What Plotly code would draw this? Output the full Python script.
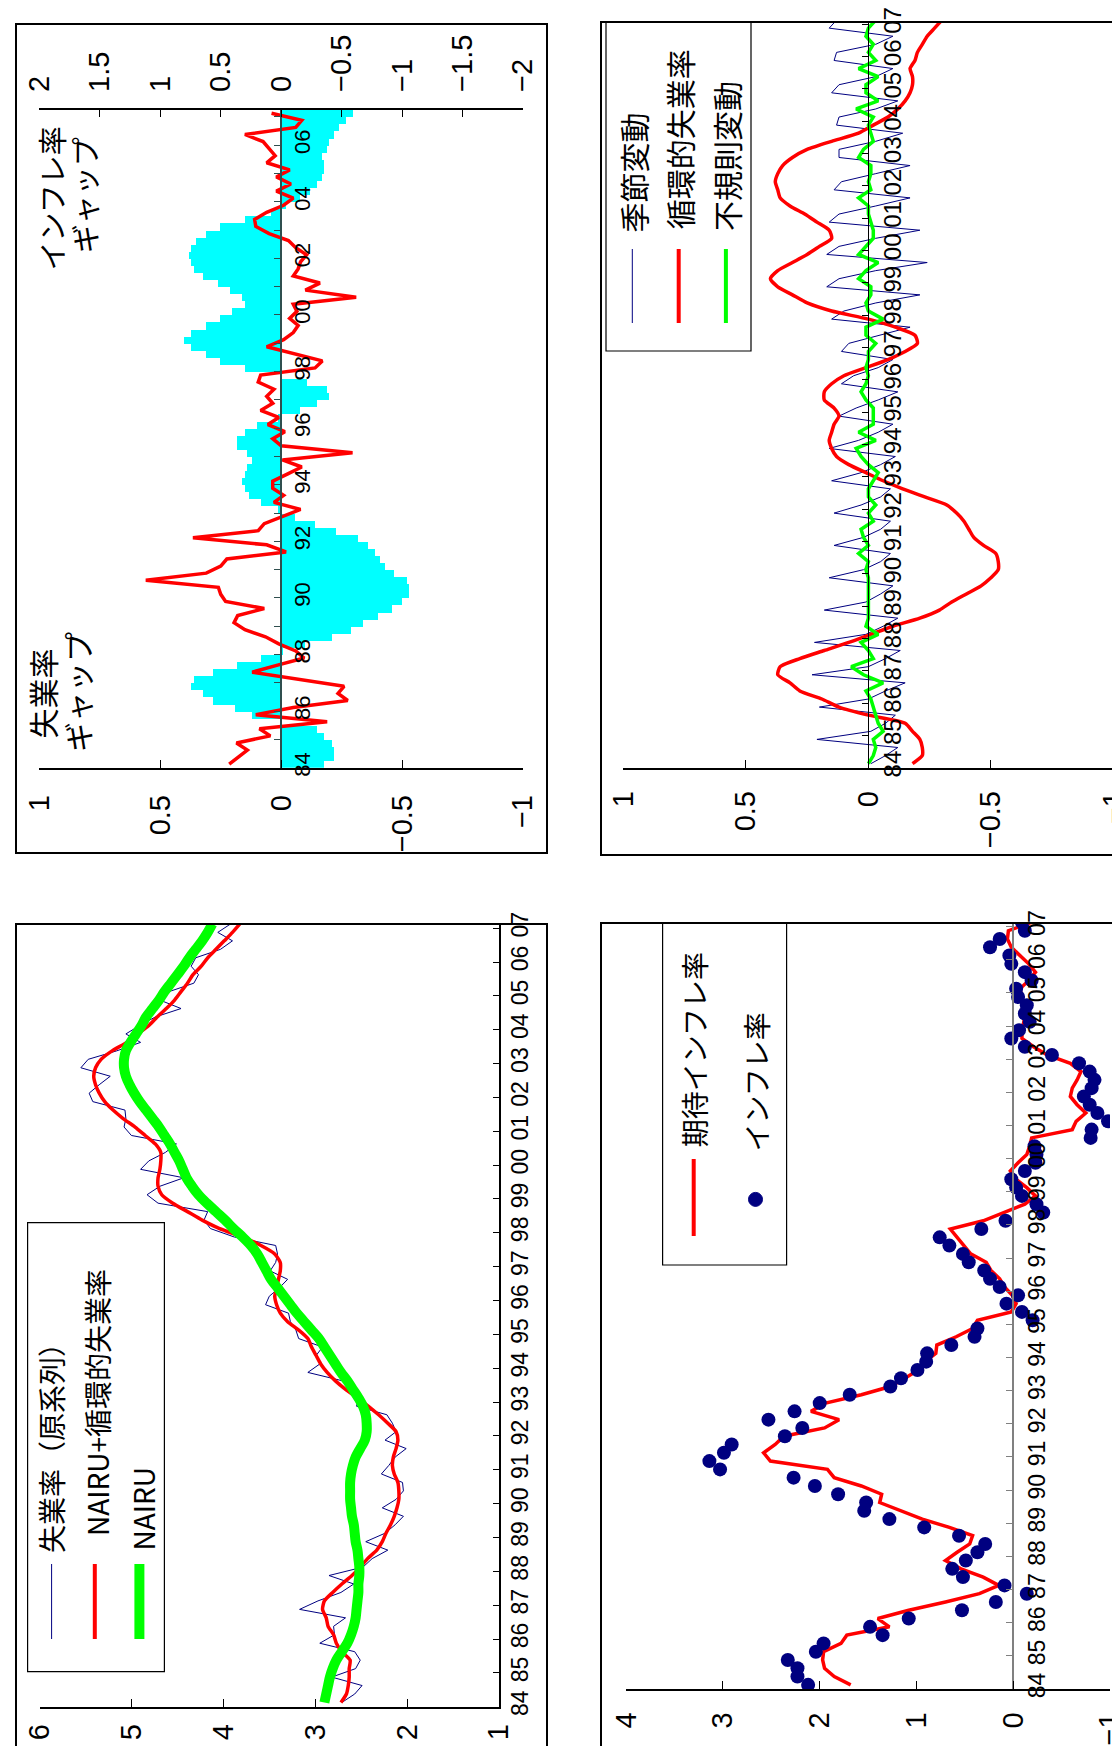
import plotly.graph_objects as go

W, H = 1120, 1746

# ---------------- data (quarterly, 1984Q1 .. 2007Q1) ----------------
QUARTERS = [f"{1984 + k // 4}Q{k % 4 + 1}" for k in range(93)]
YEARS = list(range(1984, 2008))
YEAR_LABELS = [f"{y % 100:02d}" for y in YEARS]

UNEMP_RAW = [2.71,2.57,2.49,2.82, 2.56,2.51,2.57,2.95, 2.79,2.80,2.67,3.17, 2.97,2.72,2.58,2.85,
             2.48,2.38,2.21,2.45, 2.24,2.13,2.04,2.27, 2.12,2.04,2.05,2.28, 2.20,2.13,2.01,2.24,
             2.12,2.16,2.22,2.55, 2.53,2.62,2.70,3.08, 2.95,2.99,2.92,3.18, 3.21,3.27,3.29,3.54,
             3.50,3.39,3.30,3.49, 3.43,3.41,3.43,3.88, 4.14,4.21,4.17,4.71, 4.83,4.69,4.43,4.90,
             4.81,4.63,4.51,5.00, 5.08,5.06,5.07,5.42, 5.46,5.35,5.23,5.55, 5.47,5.16,4.90,5.06,
             4.91,4.74,4.46,4.69, 4.59,4.32,4.27,4.35, 4.30,4.03,3.90,4.06, 3.92]
NAIRU_CYC = [2.72,2.66,2.64,2.63, 2.63,2.62,2.71,2.77, 2.80,2.86,2.88,2.92, 2.90,2.81,2.71,2.60,
             2.51,2.43,2.33,2.27, 2.23,2.18,2.14,2.11, 2.09,2.09,2.10,2.14, 2.16,2.15,2.12,2.10,
             2.12,2.21,2.31,2.42, 2.54,2.67,2.78,2.87, 2.94,2.99,3.04,3.08, 3.18,3.30,3.38,3.42,
             3.44,3.42,3.40,3.38, 3.38,3.44,3.59,3.79, 4.04,4.23,4.39,4.55, 4.67,4.71,4.71,4.69,
             4.68,4.68,4.74,4.85, 4.96,5.09,5.20,5.29, 5.35,5.39,5.41,5.39, 5.33,5.21,5.05,4.93,
             4.81,4.72,4.62,4.53, 4.46,4.39,4.33,4.24, 4.17,4.08,3.99,3.90, 3.82]
NAIRU = [2.90,2.88,2.86,2.84, 2.81,2.77,2.71,2.65, 2.61,2.58,2.56,2.55, 2.54,2.53,2.53,2.52,
         2.52,2.53,2.54,2.56, 2.57,2.58,2.60,2.61, 2.62,2.62,2.62,2.61, 2.59,2.56,2.51,2.46,
         2.44,2.44,2.45,2.48, 2.53,2.59,2.65,2.72, 2.78,2.84,2.90,2.96, 3.04,3.12,3.20,3.27,
         3.34,3.41,3.48,3.53, 3.58,3.63,3.70,3.79, 3.89,3.98,4.08,4.18, 4.27,4.34,4.40,4.44,
         4.48,4.53,4.58,4.64, 4.70,4.77,4.84,4.91, 4.97,5.02,5.06,5.08, 5.08,5.06,5.01,4.95,
         4.89,4.84,4.77,4.70, 4.64,4.57,4.50,4.43, 4.37,4.30,4.23,4.17, 4.12]

INFLATION = [2.12,2.23,2.23,2.33, 2.04,1.96,1.35,1.48, 1.08,0.53,0.18,-0.14, 0.09,0.52,0.63,0.49,
             0.37,0.29,0.56,0.92, 1.28,1.54,1.52,1.81, 2.05,2.27,3.03,3.14, 2.99,2.91,2.36,2.18,
             2.53,2.26,2.00,1.69, 1.27,1.16,0.99,0.90, 0.89,0.64,0.40,0.37, -0.20,-0.09,0.07,-0.05,
             0.14,0.24,0.30,0.46, 0.52,0.66,0.76,0.33, 0.08,-0.31,-0.24,-0.09, -0.03,0.02,-0.12,-0.23,
             -0.24,-0.22,-0.80,-0.81, -0.98,-0.87,-0.79,-0.73, -0.81,-0.84,-0.79,-0.68, -0.40,-0.12,0.02,-0.06,
             -0.17,-0.12,-0.14,-0.05, -0.03,-0.19,-0.12,0.02, 0.04,0.24,0.14,-0.12, -0.09]
EXP_INFLATION = [1.68,1.85,1.95,1.97, 1.96,1.78,1.72,1.28, 1.40,1.08,0.70,0.35, 0.15,0.31,0.54,0.70,
                 0.58,0.45,0.42,0.66, 0.94,1.15,1.38,1.36, 1.57,1.85,1.92,2.51, 2.58,2.46,2.37,1.95,
                 1.80,2.09,1.94,1.57, 1.27,1.12,0.98,0.91, 0.80,0.79,0.59,0.42, 0.37,0.02,-0.03,0.01,
                 0.09,0.14,0.23,0.28, 0.44,0.51,0.58,0.65, 0.31,0.10,-0.12,-0.23, -0.14,-0.03,0.03,-0.05,
                 -0.14,-0.17,-0.19,-0.61, -0.65,-0.75,-0.66,-0.59, -0.61,-0.66,-0.70,-0.59, -0.35,-0.21,-0.09,-0.09,
                 -0.11,-0.12,-0.10,-0.09, -0.07,-0.16,-0.23,-0.16, -0.07,0.02,0.06,0.05, -0.19]

CYCLICAL = [-0.18,-0.22,-0.22,-0.21, -0.18,-0.15,0.00,0.12, 0.19,0.28,0.32,0.37, 0.36,0.28,0.18,0.08,
            -0.01,-0.10,-0.21,-0.29, -0.34,-0.40,-0.46,-0.50, -0.53,-0.53,-0.52,-0.47, -0.43,-0.41,-0.39,-0.36,
            -0.32,-0.23,-0.14,-0.06, 0.01,0.08,0.13,0.15, 0.16,0.15,0.14,0.12, 0.14,0.18,0.18,0.15,
            0.10,0.01,-0.08,-0.15, -0.20,-0.19,-0.11,0.00, 0.15,0.25,0.31,0.37, 0.40,0.37,0.31,0.25,
            0.20,0.15,0.16,0.21, 0.26,0.32,0.36,0.37, 0.38,0.37,0.35,0.31, 0.25,0.15,0.04,-0.02,
            -0.08,-0.12,-0.15,-0.17, -0.18,-0.18,-0.17,-0.19, -0.20,-0.22,-0.24,-0.27, -0.30]
UNEMP_GAP = CYCLICAL  # the unemployment gap is the cyclical unemployment rate
INFL_GAP = [0.43,0.35,0.28,0.37, 0.09,0.18,-0.38,0.21, -0.10,-0.55,-0.47,-0.52, -0.12,0.24,0.03,-0.19,
            -0.12,0.02,0.13,0.30, 0.39,0.36,0.14,0.46, 0.50,0.52,1.12,0.62, 0.50,0.45,-0.04,0.12,
            0.73,0.19,0.14,-0.01, -0.16,0.06,-0.02,0.07, 0.07,-0.05,-0.17,-0.01, -0.59,0.00,0.07,-0.03,
            0.11,0.02,0.17,0.07, 0.12,0.06,0.19,0.17, -0.28,-0.34,-0.10,0.12, -0.02,-0.10,-0.14,-0.07,
            -0.13,-0.10,-0.62,-0.20, -0.32,-0.10,-0.14,-0.16, -0.21,-0.12,-0.06,0.10, 0.21,0.22,0.12,-0.02,
            -0.10,0.04,-0.08,0.04, -0.07,0.12,0.05,0.10, 0.15,0.30,-0.12,-0.17, 0.08]
SEASONAL = [-0.01,-0.07,-0.12,0.21, -0.01,-0.07,-0.11,0.20, 0.00,-0.07,-0.15,0.23, 0.00,-0.07,-0.13,0.22,
            0.01,-0.06,-0.12,0.18, 0.01,-0.05,-0.10,0.16, 0.02,-0.05,-0.09,0.14, 0.02,-0.05,-0.09,0.14,
            0.03,-0.05,-0.09,0.15, 0.03,-0.05,-0.11,0.16, 0.04,-0.04,-0.10,0.12, 0.05,-0.04,-0.12,0.11,
            0.06,-0.04,-0.10,0.11, 0.08,-0.04,-0.17,0.15, 0.10,-0.03,-0.21,0.17, 0.12,-0.03,-0.24,0.17,
            0.12,-0.03,-0.21,0.16, 0.12,-0.03,-0.17,0.14, 0.11,-0.03,-0.17,0.12, 0.12,-0.03,-0.14,0.13,
            0.12,-0.03,-0.12,0.15, 0.12,-0.03,-0.10,0.14, 0.13,-0.03,-0.10,0.16, 0.13]
IRREGULAR = [0.00,-0.02,-0.03,-0.02, -0.06,-0.04,-0.03,-0.02, -0.01,0.01,-0.06,0.02, 0.07,-0.02,0.00,0.03,
             -0.04,0.01,0.00,0.00, 0.00,0.00,0.00,0.00, 0.01,0.00,0.04,0.00, 0.02,0.03,-0.02,0.00,
             -0.03,0.00,0.00,-0.02, -0.04,0.00,0.03,0.05, -0.03,0.04,-0.02,-0.02, -0.02,0.01,0.03,0.01,
             0.00,0.01,0.00,0.00, -0.03,0.01,0.01,-0.06, 0.00,0.01,-0.01,-0.01, 0.04,0.01,-0.04,0.04,
             0.01,-0.02,-0.02,-0.01, 0.00,0.00,0.04,-0.01, 0.00,-0.01,-0.01,0.04, 0.02,-0.02,-0.01,0.00,
             -0.02,0.05,-0.04,0.01, 0.01,-0.04,0.04,-0.03, 0.00,-0.02,0.01,0.00, -0.03]


def qpos(q):
    # year (84 = 1984) at the middle of the quarter
    return (int(q[:4]) - 1900) + (int(q[-1]) - 0.5) / 4


T = [qpos(q) for q in QUARTERS]
YT = [y - 1900 for y in YEARS]

NAVY, RED, GREEN, CYAN = "#000080", "#FF0000", "#00FF00", "#00FFFF"
FONT = "Liberation Sans, Arial, Noto Sans CJK JP, sans-serif"
CJK = "Noto Sans CJK JP, sans-serif"


def PX(x):
    return x / W


def PY(y):
    return 1 - y / H


def num(v):
    s = f"{abs(v):g}"
    return ("\u2212" + s) if v < 0 else s


def vaxis(x0, x1, rng, anchor, vals, side="bottom", standoff=14, size=29):
    return dict(domain=[PX(x0), PX(x1)], range=rng, anchor=anchor, side=side,
                tickmode="array", tickvals=vals, ticktext=[num(v) for v in vals],
                tickangle=-90, ticks="inside", ticklen=8, tickwidth=1.2, tickcolor="black",
                showline=True, linecolor="black", linewidth=1.5, showgrid=False,
                zeroline=False, tickfont=dict(family=FONT, size=size, color="black"),
                ticklabelstandoff=standoff, ticklabeloverflow="allow",
                automargin=False, fixedrange=True)


def taxis(y_bottom, y_top, rng, anchor, position=None, every=1, linecolor="black",
          standoff=0, size=23, linewidth=1.5):
    d = dict(domain=[PY(y_bottom), PY(y_top)], range=rng, side="right",
             tickmode="array", tickvals=YT,
             ticktext=[lab if (i % every == 0) else "" for i, lab in enumerate(YEAR_LABELS)],
             tickangle=-90, ticks="inside", ticklen=6, tickwidth=1, tickcolor=linecolor,
             showline=True, linecolor=linecolor, linewidth=linewidth, showgrid=False,
             zeroline=False, tickfont=dict(family=FONT, size=size, color="black"),
             ticklabelstandoff=standoff, ticklabeloverflow="allow",
             automargin=False, fixedrange=True)
    if position is None:
        d["anchor"] = anchor
    else:
        d["anchor"] = "free"
        d["position"] = position
    return d


fig = go.Figure()

# ---- Panel A: unemployment rate, NAIRU ----
fig.add_trace(go.Scatter(x=UNEMP_RAW, y=T, mode="lines", line=dict(color=NAVY, width=1),
                         xaxis="x", yaxis="y"))
fig.add_trace(go.Scatter(x=NAIRU_CYC, y=T, mode="lines",
                         line=dict(color=RED, width=3.5, shape="spline", smoothing=0.6),
                         xaxis="x", yaxis="y"))
fig.add_trace(go.Scatter(x=NAIRU, y=T, mode="lines", line=dict(color=GREEN, width=10, shape="spline"),
                         xaxis="x", yaxis="y"))

# ---- Panel B: inflation, expected inflation ----
fig.add_trace(go.Scatter(x=EXP_INFLATION, y=T, mode="lines", line=dict(color=RED, width=3.5),
                         xaxis="x2", yaxis="y2"))
fig.add_trace(go.Scatter(x=INFLATION, y=T, mode="markers", marker=dict(color=NAVY, size=14),
                         xaxis="x2", yaxis="y2"))

# ---- Panel C: gaps ----
fig.add_trace(go.Bar(x=UNEMP_GAP, y=T, orientation="h", width=0.25,
                     marker=dict(color=CYAN, line=dict(width=0)), xaxis="x3", yaxis="y3"))
fig.add_trace(go.Scatter(x=INFL_GAP, y=T, mode="lines", line=dict(color=RED, width=3.5),
                         xaxis="x4", yaxis="y3"))

# ---- Panel D: decomposition ----
fig.add_trace(go.Scatter(x=SEASONAL, y=T, mode="lines", line=dict(color=NAVY, width=1),
                         xaxis="x5", yaxis="y4"))
fig.add_trace(go.Scatter(x=CYCLICAL, y=T, mode="lines",
                         line=dict(color=RED, width=3.5, shape="spline", smoothing=0.6),
                         xaxis="x5", yaxis="y4"))
fig.add_trace(go.Scatter(x=IRREGULAR, y=T, mode="lines", line=dict(color=GREEN, width=3.5),
                         xaxis="x5", yaxis="y4"))

layout = dict(
    width=W, height=H, margin=dict(l=0, r=0, t=0, b=0, pad=0, autoexpand=False),
    paper_bgcolor="white", plot_bgcolor="rgba(0,0,0,0)", showlegend=False, bargap=0,
    font=dict(family=FONT, color="black"),
    # Panel A
    xaxis=vaxis(31.5, 491, [6, 1], "y", [1, 2, 3, 4, 5, 6], standoff=4),
    yaxis=taxis(1698.7, 916, [84, 84 + (1698.7 - 916) / 33.85], "x", standoff=0),
    # Panel B
    xaxis2=vaxis(618.2, 1102, [4, -1], "y2", [-1, 0, 1, 2, 3, 4], standoff=10),
    yaxis2=taxis(1681, 915, [84, 84 + (1681 - 915) / 33.15], "x2", position=PX(1005.4),
                 linecolor="#808080", linewidth=2, standoff=3),
    # Panel C
    xaxis3=vaxis(31.4, 515, [1, -1], "y3", [-1, -0.5, 0, 0.5, 1], standoff=14),
    xaxis4=dict(vaxis(31.4, 515, [2, -2], "y3", [-2, -1.5, -1, -0.5, 0, 0.5, 1, 1.5, 2],
                      side="top", standoff=10), overlaying="x3"),
    yaxis3=taxis(759.7, 101.5, [84, 84 + (759.7 - 101.5) / 28.3], "x3", position=PX(273.2),
                 every=2, linecolor="#2F4F4F", standoff=2, size=22),
    # Panel D
    xaxis5=vaxis(615.4, 1105.4, [1, -1], "y4", [-1, -0.5, 0, 0.5, 1], standoff=10),
    yaxis4=taxis(759.7, 14, [84, 84 + (759.7 - 14) / 32.33], "x5", position=PX(860),
                 linewidth=1.2, standoff=3, size=24),
)

shapes = []


def rect(x0, y0, x1, y1, width=2.0):
    shapes.append(dict(type="rect", xref="paper", yref="paper", x0=PX(x0), x1=PX(x1),
                       y0=PY(y1), y1=PY(y0), line=dict(color="black", width=width),
                       fillcolor="rgba(0,0,0,0)"))


def vline(x, y0, y1, color, width):
    shapes.append(dict(type="line", xref="paper", yref="paper", x0=PX(x), x1=PX(x),
                       y0=PY(y1), y1=PY(y0), line=dict(color=color, width=width)))


# panel frames
rect(8, 16, 539, 845)
rect(8, 916, 539, 1770)
rect(593, 14, 1135, 847)
rect(593, 915, 1135, 1770)

# legend A
rect(19.6, 1214.6, 156.4, 1663.6, width=1.2)
vline(43.6, 1556, 1631, NAVY, 1)
vline(86.8, 1556, 1631, RED, 4)
vline(131.4, 1556, 1631, GREEN, 10)
# legend B
rect(654.6, 915, 778.6, 1257, width=1.2)
vline(685.7, 1151, 1228, RED, 4)
shapes.append(dict(type="circle", xref="paper", yref="paper", x0=PX(740.5), x1=PX(754.5),
                   y0=PY(1198.4), y1=PY(1184.4), fillcolor=NAVY, line=dict(color=NAVY, width=1)))
# legend D
rect(598, 13.7, 743, 343, width=1.2)
vline(624.3, 241, 315, NAVY, 1)
vline(670.7, 241, 315, RED, 4)
vline(717.9, 241, 315, GREEN, 4)

layout["shapes"] = shapes


def label(text, x, y, size=28):
    return dict(text=text, x=PX(x), y=PY(y), xref="paper", yref="paper", showarrow=False,
                textangle=-90, xanchor="center", yanchor="middle",
                font=dict(family=CJK, size=size, color="black"))


layout["annotations"] = [
    label("失業率（原系列）", 42.9, 1433),
    label("NAIRU+循環的失業率", 89, 1395),
    label("NAIRU", 134, 1501.5),
    label("期待インフレ率", 685.7, 1041.5),
    label("インフレ率", 747.5, 1074),
    label("失業率", 34, 685.5, 30),
    label("ギャップ", 69.6, 684.5, 30),
    label("インフレ率", 42.9, 190.5, 29),
    label("ギャップ", 76.8, 187.5, 29),
    label("季節変動", 624, 164.5, 30),
    label("循環的失業率", 670.7, 131.6, 30),
    label("不規則変動", 717.9, 148, 30),
]

fig.update_layout(**layout)
fig.write_html("out.html")
